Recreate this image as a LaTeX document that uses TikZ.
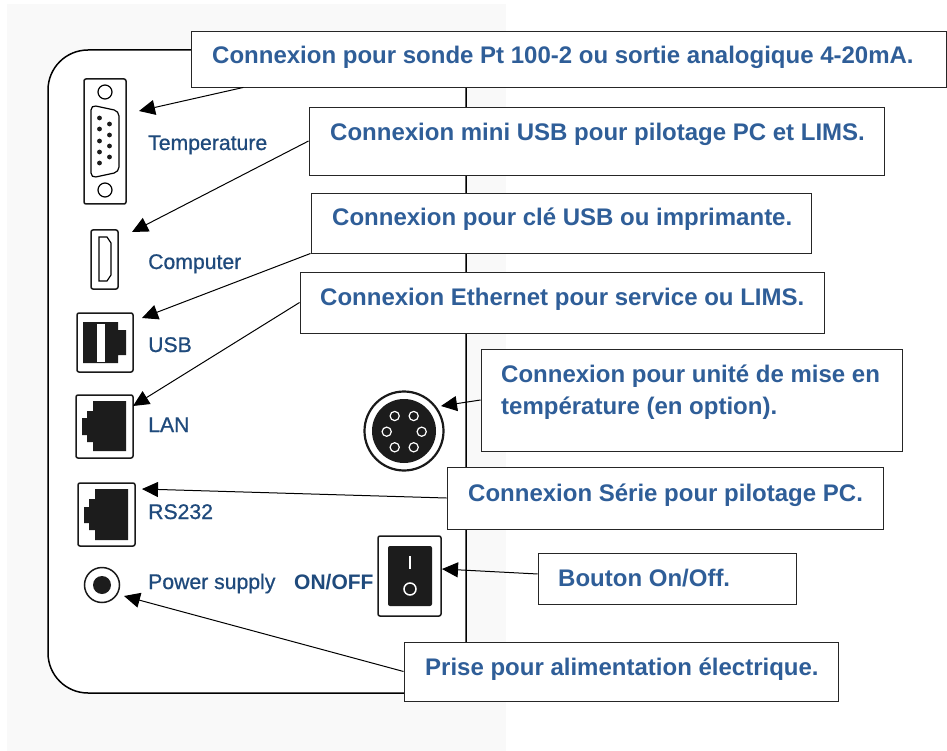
\documentclass[tikz,border=0pt]{standalone}
\usepackage{fontspec}
\setmainfont{Liberation Sans}
\newfontfamily\portfont[FakeBold=0.8]{Liberation Sans}
\usetikzlibrary{arrows.meta}
\definecolor{capblue}{HTML}{2F5E98}
\definecolor{portblue}{HTML}{1F4A7C}
\definecolor{iconblack}{HTML}{1C1C1C}
\tikzset{
  capbox/.style={draw=black!85, line width=0.9pt, fill=white, inner sep=0pt},
  captext/.style={anchor=base west, inner sep=0pt, font=\fontsize{24}{32}\selectfont\bfseries, text=capblue, align=left},
  porttext/.style={anchor=base west, inner sep=0pt, font=\fontsize{21.2}{24}\portfont, text=portblue},
  shell/.style={draw=black!90, line width=1.5pt, fill=white, rounded corners=2pt, inner sep=0pt},
  callout/.style={-{Triangle[length=16pt,width=15pt]}, line width=1pt, black},
}
\begin{document}
\begin{tikzpicture}[x=1pt,y=-1pt]
\useasboundingbox (0,0) rectangle (947,751);
% Panel
\fill[white] (0,0) rectangle (947,751);
\fill[black!2.5] (7,4) rectangle (506,751);
\draw[line width=1.5pt, fill=white] (466,50) -- (466,693) [rounded corners=40pt] -- (48,693) -- (48,50) -- (466,50);

% Temperature port
\node[shell, minimum width=42pt, minimum height=125pt] (tempPort) at (105,141.5) {};
\draw[line width=1.2pt] (105,92) circle[radius=7];
\draw[line width=1.2pt] (105,190) circle[radius=7];
\draw[line width=1.2pt, rounded corners=5pt] (91,105) -- (119,111) -- (119,172) -- (91,178) -- cycle;
\fill[iconblack] (99.5,118) circle[radius=2.4] (99.5,129) circle[radius=2.4] (99.5,141) circle[radius=2.4]
  (99.5,152) circle[radius=2.4] (99.5,163) circle[radius=2.4] (109.5,124) circle[radius=2.4]
  (109.5,135) circle[radius=2.4] (109.5,146) circle[radius=2.4] (109.5,157) circle[radius=2.4];

% Computer port
\node[shell, minimum width=27pt, minimum height=59pt] (computerPort) at (104.5,259.5) {};
\draw[line width=1.2pt] (99,237) -- (107,237) -- (111,243) -- (111,275) -- (107,281) -- (99,281) -- cycle;

% USB port
\node[shell, minimum width=56pt, minimum height=59pt] (usbPort) at (105,342.5) {};
\fill[iconblack] (83,322) -- (118,322) -- (118,330) -- (126,330) -- (126,355) -- (118,355) -- (118,363) -- (83,363) -- cycle;
\fill[white] (97,324) rectangle (105,362);

% LAN port
\node[shell, minimum width=57pt, minimum height=63pt] (lanPort) at (104.5,426.5) {};
\fill[iconblack] (93,401) -- (126,401) -- (126,451) -- (93,451) -- (93,442) -- (87,442) -- (87,435) -- (82,435)
  -- (82,418) -- (87,418) -- (87,411) -- (93,411) -- cycle;

% RS232 port
\node[shell, minimum width=57pt, minimum height=63pt] (rsPort) at (106.5,514.5) {};
\fill[iconblack] (95,489) -- (128,489) -- (128,540) -- (95,540) -- (95,530) -- (89,530) -- (89,523) -- (84,523)
  -- (84,507) -- (89,507) -- (89,499) -- (95,499) -- cycle;

% Power socket
\node[draw=black!90, line width=1.5pt, fill=white, circle, minimum size=35pt, inner sep=0pt] (powerPort) at (102,585) {};
\fill[iconblack] (powerPort.center) circle[radius=9];

% Temperature unit socket
\node[draw=black!90, line width=2.2pt, fill=white, circle, minimum size=79pt, inner sep=0pt] (dinPort) at (404,431) {};
\fill[iconblack] (dinPort.center) circle[radius=32];
\draw[white, line width=1.2pt] (394.7,416) circle[radius=4.6] (413.7,416) circle[radius=4.6] (386.7,431.7) circle[radius=4.6]
  (421.7,431.7) circle[radius=4.6] (394.7,447.3) circle[radius=4.6] (413.7,447.3) circle[radius=4.6];

% Switch
\node[shell, minimum width=63pt, minimum height=80pt] (switchPort) at (409.5,576) {};
\fill[iconblack, rounded corners=2pt] (388,546) rectangle (432,606);
\draw[white, line width=1.5pt] (410,556) -- (410,569);
\draw[white, line width=1.5pt] (410,589) circle[radius=6];

% Boxes
\node[capbox, minimum width=755pt, minimum height=56pt] (sondeBox) at (568.5,59) {};
\node[capbox, minimum width=575pt, minimum height=68pt] (miniBox) at (596.5,141) {};
\node[capbox, minimum width=500pt, minimum height=60pt] (cleBox) at (561,223) {};
\node[capbox, minimum width=524pt, minimum height=61pt] (ethBox) at (562,302.5) {};
\node[capbox, minimum width=421pt, minimum height=102pt] (uniteBox) at (691.5,400) {};
\node[capbox, minimum width=436pt, minimum height=62pt] (serieBox) at (665,498) {};
\node[capbox, minimum width=258pt, minimum height=51pt] (boutonBox) at (667,578.5) {};
\node[capbox, minimum width=434pt, minimum height=59pt] (priseBox) at (621,671.5) {};

% Arrow tips
\coordinate (tempTip) at (139,111);
\coordinate (computerTip) at (132,232);
\coordinate (usbTip) at (142,318);
\coordinate (lanTip) at (133,406);
\coordinate (dinTip) at (441,406);
\coordinate (rsTip) at (142,489);
\coordinate (switchTip) at (442,569);
\coordinate (powerTip) at (124,596);

% Arrows
\draw[callout] (sondeBox.185) -- (tempTip);
\draw[callout] (miniBox.west) -- (computerTip);
\draw[callout] (cleBox.south west) -- (usbTip);
\draw[callout] (ethBox.west) -- (lanTip);
\draw[callout] (uniteBox.west) -- (dinTip);
\draw[callout] (serieBox.west) -- (rsTip);
\draw[callout] (boutonBox.178) -- (switchTip);
\draw[callout] (priseBox.west) -- (powerTip);

% Labels
\node[captext] (sondeText) at (212,64) {Connexion pour sonde Pt 100-2 ou sortie analogique 4-20mA.};
\node[captext] (miniText) at (330,141) {Connexion mini USB pour pilotage PC et LIMS.};
\node[captext] (cleText) at (332,226) {Connexion pour clé USB ou imprimante.};
\node[captext] (ethText) at (320,305) {Connexion Ethernet pour service ou LIMS.};
\node[captext] (uniteText) at (501,414) {Connexion pour unité de mise en\\température (en option).};
\node[captext] (serieText) at (468,501) {Connexion Série pour pilotage PC.};
\node[captext] (boutonText) at (558,586) {Bouton On/Off.};
\node[captext] (priseText) at (425,675) {Prise pour alimentation électrique.};

\node[porttext] (tempLabel) at (148,150) {Temperature};
\node[porttext] (computerLabel) at (148,269) {Computer};
\node[porttext] (usbLabel) at (148,352) {USB};
\node[porttext] (lanLabel) at (148,432) {LAN};
\node[porttext] (rsLabel) at (148,519) {RS232};
\node[porttext] (powerLabel) at (148,589) {Power supply};
\node[porttext, font=\fontsize{21}{24}\selectfont\bfseries] (onoffLabel) at (294,589) {ON/OFF};
\end{tikzpicture}
\end{document}
